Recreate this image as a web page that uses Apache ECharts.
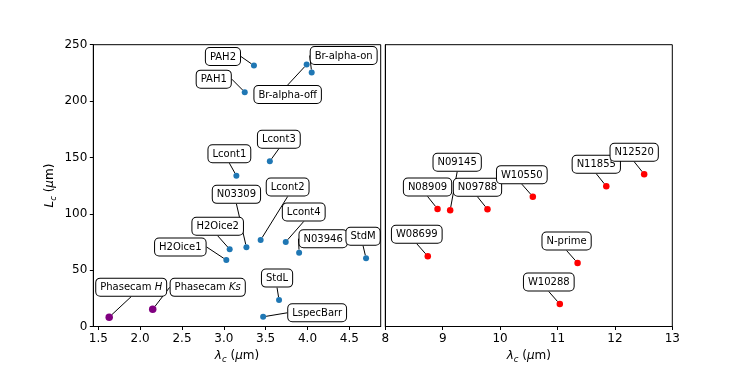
<!DOCTYPE html>
<html>
<head>
<meta charset="utf-8">
<script src="https://cdn.jsdelivr.net/npm/echarts@6/dist/echarts.min.js"></script>
<style>
  html, body { margin: 0; padding: 0; background: #fff; }
  #chart { width: 747px; height: 374px; }
</style>
</head>
<body>
<div id="chart"></div>
<script>
// short-wave filters (left panel)
const shortNames = ['PAH2', 'PAH1', 'Br-alpha-off', 'Br-alpha-on', 'Lcont3', 'Lcont1',
  'N03309', 'Lcont2', 'Lcont4', 'H2Oice2', 'H2Oice1', 'N03946', 'StdM', 'StdL', 'LspecBarr']
const shortLambda = [3.36, 3.25, 3.99, 4.05, 3.55, 3.15, 3.27, 3.44, 3.74, 3.07, 3.03, 3.90, 4.70, 3.66, 3.47]
const shortL = [231.5, 207.9, 232.4, 225.3, 146.6, 133.8, 70.2, 76.7, 75.0, 68.5, 59.0, 65.5, 60.5, 23.4, 8.6]

// Phasecam
const phaseNames = ['Phasecam H', 'Phasecam Ks']
const phaseLambda = [1.63, 2.15]
const phaseL = [8.3, 15.2]

// N-band filters (right panel)
const longNames = ['W08699', 'N08909', 'N09145', 'N09788', 'W10550', 'N11855', 'N12520', 'N-prime', 'W10288']
const longLambda = [8.74, 8.91, 9.13, 9.78, 10.57, 11.85, 12.51, 11.35, 11.04]
const longL = [62.3, 104.3, 103.1, 104.0, 115.2, 124.4, 135.1, 56.3, 19.9]

// tick labels
const leftTicks = [1.5, 2.0, 2.5, 3.0, 3.5, 4.0, 4.5]
const rightTicks = [8, 9, 10, 11, 12, 13]
const yTicks = [0, 50, 100, 150, 200, 250]

// label box offsets (px) from each point
const shortOffsets = [[-31, -9], [-31, -13], [-19, 30], [32, -17], [9, -22], [-7, -22],
  [-10, -53], [27, -53], [18, -30], [-12, -23], [-46, -13], [24, -14], [-3, -22], [-2, -22], [54, -4]]
const phaseOffsets = [[22, -30], [55, -22]]
const longOffsets = [[-11, -22], [-10, -22], [7, -48], [-10, -22], [-11, -22], [-10, -22], [-10, -22], [-11, -22], [-11, -22]]

const FONT = 'DejaVu Sans'
const chart = echarts.init(document.getElementById('chart'))

const boxLabel = {
  show: true,
  position: 'inside',
  fontFamily: FONT,
  fontSize: 10,
  color: '#000',
  backgroundColor: '#fff',
  borderColor: '#000',
  borderWidth: 1,
  borderRadius: 4,
  padding: [4, 4, 3, 4],
  rich: {
    i: { fontFamily: FONT, fontSize: 10, fontStyle: 'italic', color: '#000' }
  },
  formatter: p => p.name.startsWith('Phasecam ')
    ? 'Phasecam {i|' + p.name.slice(9) + '}'
    : p.name
}

const labelLine = { show: true, lineStyle: { color: '#000', width: 1 } }

const axisRich = {
  t: { fontFamily: FONT, fontSize: 12, color: '#000', lineHeight: 17 },
  it: { fontFamily: FONT, fontSize: 12, fontStyle: 'italic', color: '#000', lineHeight: 17 },
  sub: { fontFamily: FONT, fontSize: 8.5, fontStyle: 'italic', color: '#000', lineHeight: 17, verticalAlign: 'bottom', padding: [5, 0, 0, 0] }
}

const xName = '{it|λ}{sub|c}{t| (}{it|μ}{t|m)}'
const yName = '{it|L}{sub|c}{t| (}{it|μ}{t|m)}'

const tickLabel = { fontFamily: FONT, fontSize: 12, color: '#000', margin: 6 }
const tick = { inside: false, length: 3.5, lineStyle: { color: '#000', width: 1 } }
const axisLine = { lineStyle: { color: '#000', width: 1 } }

const makeSeries = (names, xs, ys, offsets, color, size, axis) => ({
  type: 'scatter',
  xAxisIndex: axis,
  yAxisIndex: axis,
  symbolSize: size,
  itemStyle: { color: color, opacity: 1 },
  data: names.map((n, i) => ({ name: n, value: [xs[i], ys[i]] })),
  label: boxLabel,
  labelLine: labelLine,
  labelLayout: p => ({ dx: offsets[p.dataIndex][0], dy: offsets[p.dataIndex][1] }),
  emphasis: { disabled: true }
})

const option = {
  backgroundColor: '#fff',
  animation: false,
  grid: [
    { left: 93.3, top: 44.7, width: 287.4, height: 281.8, show: true, borderColor: '#000', borderWidth: 1, backgroundColor: 'transparent' },
    { left: 385.3, top: 44.7, width: 287, height: 281.8, show: true, borderColor: '#000', borderWidth: 1, backgroundColor: 'transparent' }
  ],
  xAxis: [
    {
      gridIndex: 0, type: 'value', min: 1.44, max: 4.875,
      axisLine: axisLine,
      axisTick: Object.assign({ customValues: leftTicks }, tick),
      axisLabel: Object.assign({ customValues: leftTicks, formatter: v => v.toFixed(1) }, tickLabel),
      splitLine: { show: false },
      name: xName, nameLocation: 'middle', nameGap: 20,
      nameTextStyle: { rich: axisRich }
    },
    {
      gridIndex: 1, type: 'value', min: 8, max: 13,
      axisLine: axisLine,
      axisTick: Object.assign({ customValues: rightTicks }, tick),
      axisLabel: Object.assign({ customValues: rightTicks }, tickLabel),
      splitLine: { show: false },
      name: xName, nameLocation: 'middle', nameGap: 20,
      nameTextStyle: { rich: axisRich }
    }
  ],
  yAxis: [
    {
      gridIndex: 0, type: 'value', min: 0, max: 250,
      axisLine: Object.assign({ show: true }, axisLine),
      axisTick: Object.assign({ show: true, customValues: yTicks }, tick),
      axisLabel: Object.assign({ customValues: yTicks }, tickLabel),
      splitLine: { show: false },
      name: yName, nameLocation: 'middle', nameGap: 35, nameRotate: 90,
      nameTextStyle: { rich: axisRich }
    },
    {
      gridIndex: 1, type: 'value', min: 0, max: 250,
      axisLine: Object.assign({ show: true }, axisLine),
      axisTick: { show: false },
      axisLabel: { show: false },
      splitLine: { show: false }
    }
  ],
  series: [
    makeSeries(shortNames, shortLambda, shortL, shortOffsets, '#1f77b4', 6, 0),
    makeSeries(phaseNames, phaseLambda, phaseL, phaseOffsets, '#800080', 7.5, 0),
    makeSeries(longNames, longLambda, longL, longOffsets, '#ff0000', 6.5, 1)
  ]
}

chart.setOption(option)
</script>
</body>
</html>
